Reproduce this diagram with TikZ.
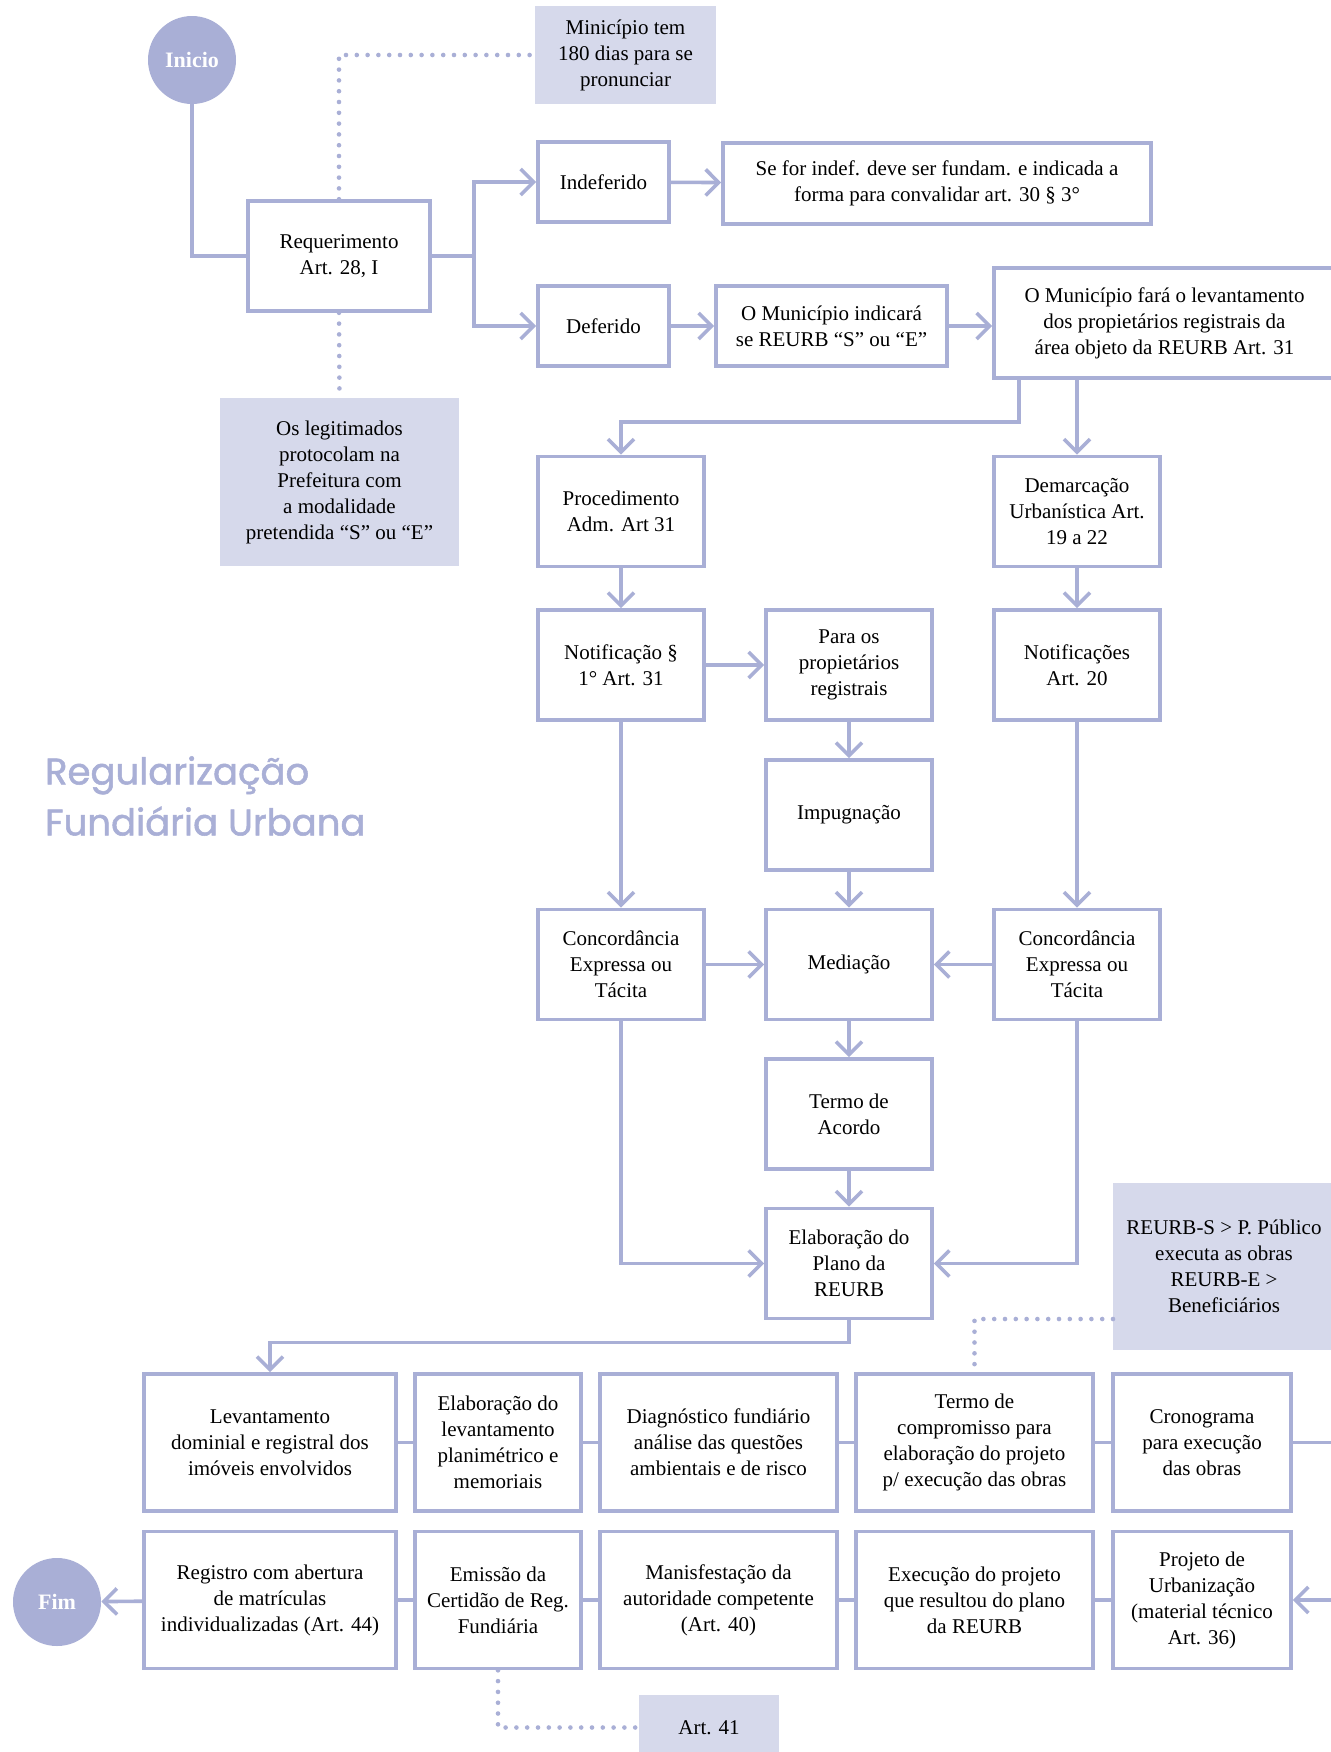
\documentclass[tikz,border=0pt]{standalone}
\usepackage{fontspec}
\setmainfont{Liberation Serif}
\newfontfamily\titlefont{Poppins}[FakeBold=1.4]
\usepackage{tikz}
\usetikzlibrary{positioning,arrows.meta}
\definecolor{lila}{HTML}{A9AFD6}
\definecolor{lilaclaro}{HTML}{D6D9EB}

\begin{document}
\begin{tikzpicture}[x=0.5pt, y=-0.5pt,
    font=\fontsize{10.5}{13}\selectfont,
    caixa/.style={draw=lila, line width=1.8pt, fill=white, align=center, inner sep=2pt, minimum width=83pt, minimum height=55pt},
    larga/.style={caixa, minimum height=68.5pt},
    nota/.style={fill=lilaclaro, align=center, inner sep=2pt},
    circulo/.style={circle, fill=lila, text=white, minimum size=44pt, inner sep=0pt, font=\fontsize{11}{13}\selectfont\bfseries},
    liga/.style={draw=lila, line width=1.8pt},
    seta/.style={liga, -{Straight Barb[length=6.5pt,width=13pt]}},
    pontos/.style={draw=lila, line width=2.3pt, line cap=round, dash pattern=on 0pt off 5.4pt}]
    % Page
    \path[use as bounding box, fill=white] (0,0) rectangle (1331,1752);

    % Title
    \node[anchor=west, align=left, text=lila, font=\titlefont\fontsize{18.5}{25.5}\selectfont] (titulo) at (38,796) {Regularização\\Fundiária Urbana};

    % Top part
    \node[circulo] (ini) at (192,60) {Inicio};
    \node[nota, minimum width=90.5pt, minimum height=49pt] (mun180) at (625.5,55) {Minicípio tem\\180 dias para se\\pronunciar};
    \node[caixa, minimum width=91pt] (req) at (339,256) {Requerimento\\Art. 28, I};
    \node[nota, minimum width=119.5pt, minimum height=84pt] (legit) at (339.5,482) {Os legitimados\\protocolam na\\Prefeitura com\\a modalidade\\pretendida “S” ou “E”};
    \node[caixa, minimum width=65.5pt, minimum height=40pt] (indef) at (603.5,182) {Indeferido};
    \node[caixa, minimum width=214pt, minimum height=40.5pt] (sefor) at (937,183.5) {Se for indef. deve ser fundam. e indicada a\\forma para convalidar art. 30 § 3°};
    \node[caixa, minimum width=65.5pt, minimum height=40pt] (defer) at (603.5,326) {Deferido};
    \node[caixa, minimum width=115.5pt, minimum height=40pt] (indica) at (831.5,326) {O Município indicará\\se REURB “S” ou “E”};
    \node[caixa, minimum width=170.5pt] (fara) at (1164.5,323) {O Município fará o levantamento\\dos propietários registrais da\\área objeto da REURB Art. 31};

    % Middle part
    \node[caixa] (proc) at (621,511.5) {Procedimento\\Adm. Art 31};
    \node[caixa] (demar) at (1077,511.5) {Demarcação\\Urbanística Art.\\19 a 22};
    \node[caixa] (notif) at (621,665) {Notificação §\\1° Art. 31};
    \node[caixa] (paraos) at (849,665) {Para os\\propietários\\registrais};
    \node[caixa] (notifs) at (1077,665) {Notificações\\Art. 20};
    \node[caixa] (impug) at (849,815) {Impugnação};
    \node[caixa] (concE) at (621,964.5) {Concordância\\Expressa ou\\Tácita};
    \node[caixa] (media) at (849,964.5) {Mediação};
    \node[caixa] (concD) at (1077,964.5) {Concordância\\Expressa ou\\Tácita};
    \node[caixa] (termo) at (849,1114) {Termo de\\Acordo};
    \node[caixa] (plano) at (849,1263.5) {Elaboração do\\Plano da\\REURB};
    \node[nota, minimum width=111pt, minimum height=83.5pt] (reurbs) at (1224,1266.5) {REURB-S > P. Público\\executa as obras\\REURB-E >\\Beneficiários};

    % Bottom rows
    \node[larga, minimum width=126pt] (lev) at (270,1442.5) {Levantamento\\dominial e registral dos\\imóveis envolvidos};
    \node[larga] (elab) at (498,1442.5) {Elaboração do\\levantamento\\planimétrico e\\memoriais};
    \node[larga, minimum width=118.5pt] (diag) at (718.5,1442.5) {Diagnóstico fundiário\\análise das questões\\ambientais e de risco};
    \node[larga, minimum width=118.5pt] (tcomp) at (974.5,1442.5) {Termo de\\compromisso para\\elaboração do projeto\\p/ execução das obras};
    \node[larga, minimum width=89pt] (crono) at (1202,1442.5) {Cronograma\\para execução\\das obras};
    \node[larga, minimum width=126pt] (reg) at (270,1600) {Registro com abertura\\de matrículas\\individualizadas (Art. 44)};
    \node[larga] (emis) at (498,1600) {Emissão da\\Certidão de Reg.\\Fundiária};
    \node[larga, minimum width=118.5pt] (manif) at (718.5,1600) {Manisfestação da\\autoridade competente\\(Art. 40)};
    \node[larga, minimum width=118.5pt] (exec) at (974.5,1600) {Execução do projeto\\que resultou do plano\\da REURB};
    \node[larga, minimum width=89pt] (proj) at (1202,1600) {Projeto de\\Urbanização\\(material técnico\\Art. 36)};
    \node[circulo] (fim) at (57,1602) {Fim};
    \node[nota, minimum width=70pt, minimum height=32.5pt] (art41) at (709,1727.5) {Art. 41};

    % Connectors
    \coordinate (faraA) at (1019,378);
    \coordinate (reurbA) at (1113,1319);
    \draw[liga] (ini.south) |- (req.west);
    \draw[pontos] (req.north) |- (mun180.west);
    \draw[pontos] (req.south) -- (legit.north);
    \draw[seta] (req.east) -- ++(42,0) |- (indef.west);
    \draw[seta] (req.east) -- ++(42,0) |- (defer.west);
    \draw[seta] (indef) -- (sefor);
    \draw[seta] (defer) -- (indica);
    \draw[seta] (indica.east) -- (indica.east -| fara.west);
    \draw[seta] (faraA) -- ++(0,44) -| (proc.north);
    \draw[seta] (fara.south -| demar) -- (demar.north);
    \draw[seta] (proc) -- (notif);
    \draw[seta] (demar) -- (notifs);
    \draw[seta] (notif) -- (paraos);
    \draw[seta] (paraos) -- (impug);
    \draw[seta] (notif) -- (concE);
    \draw[seta] (notifs) -- (concD);
    \draw[seta] (impug) -- (media);
    \draw[seta] (concE) -- (media);
    \draw[seta] (concD) -- (media);
    \draw[seta] (media) -- (termo);
    \draw[seta] (termo) -- (plano);
    \draw[seta] (concE.south) |- (plano.west);
    \draw[seta] (concD.south) |- (plano.east);
    \draw[seta] (plano.south) -- ++(0,22) -| (lev.north);
    \draw[pontos] (reurbA) -| (tcomp.north);
    \draw[liga] (lev) -- (elab) (elab) -- (diag) (diag) -- (tcomp) (tcomp) -- (crono);
    \draw[seta] (crono.east) -- ++(70,0) |- (proj.east);
    \draw[liga] (proj) -- (exec) (exec) -- (manif) (manif) -- (emis) (emis) -- (reg);
    \draw[seta] (reg) -- (fim);
    \draw[pontos] (emis.south) |- (art41.west);
\end{tikzpicture}
\end{document}
